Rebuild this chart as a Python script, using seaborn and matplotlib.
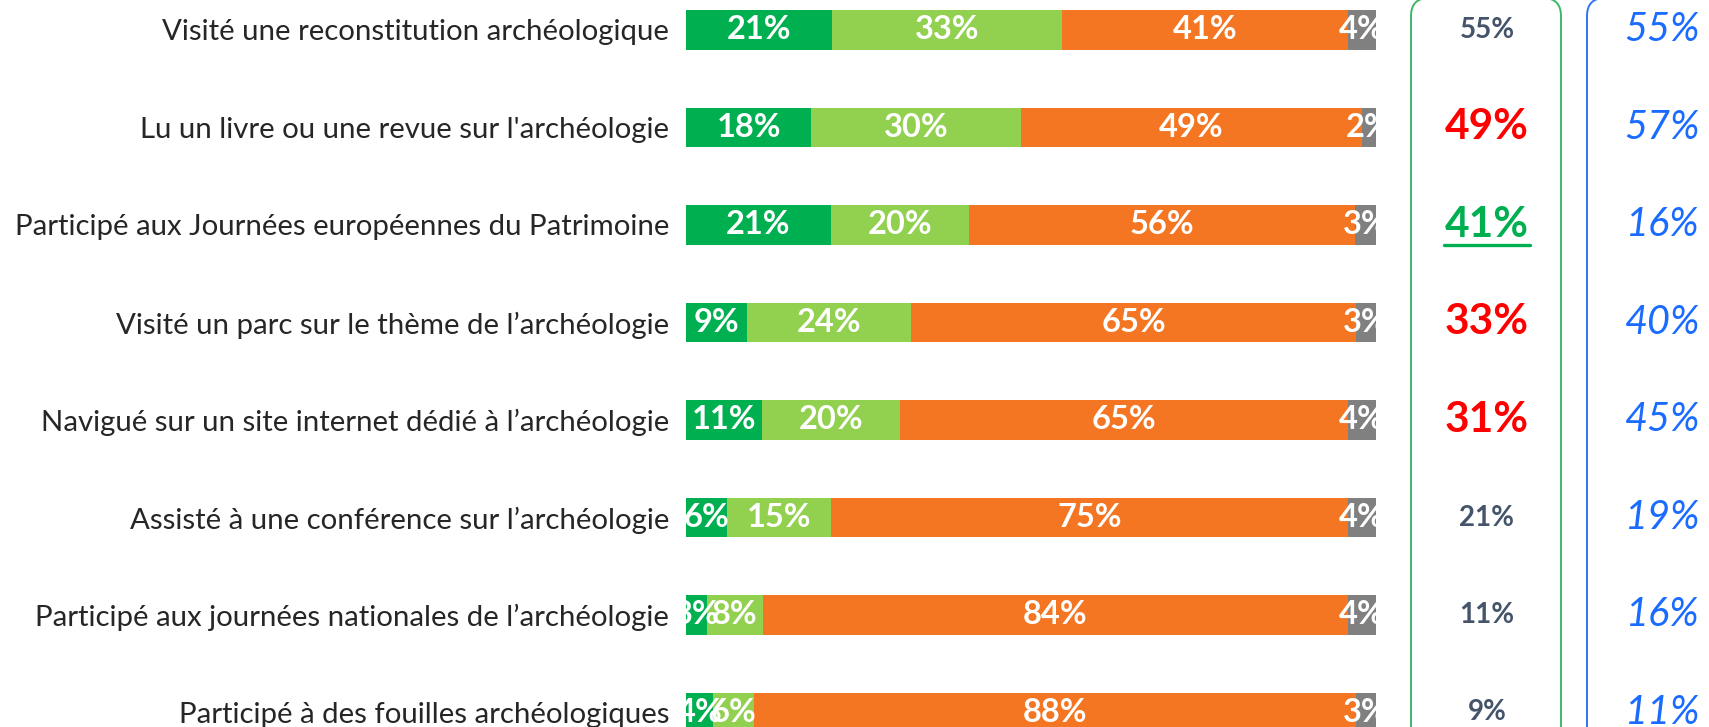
import numpy as np
import pandas as pd
import seaborn as sns
import matplotlib.pyplot as plt
import matplotlib.transforms as mtransforms
from matplotlib.patches import FancyBboxPatch

# data
categories = [
    "Visité une reconstitution archéologique",
    "Lu un livre ou une revue sur l'archéologie",
    "Participé aux Journées européennes du Patrimoine",
    "Visité un parc sur le thème de l’archéologie",
    "Navigué sur un site internet dédié à l’archéologie",
    "Assisté à une conférence sur l’archéologie",
    "Participé aux journées nationales de l’archéologie",
    "Participé à des fouilles archéologiques",
]
seg_recent = [21, 18, 21, 9, 11, 6, 3, 4]
seg_ancien = [33, 30, 20, 24, 20, 15, 8, 6]
seg_jamais = [41, 49, 56, 65, 65, 75, 84, 88]
seg_nsp = [4, 2, 3, 3, 4, 4, 4, 3]
total_oui = [55, 49, 41, 33, 31, 21, 11, 9]
total_ref = [55, 57, 16, 40, 45, 19, 16, 11]
ecart = ["=", "-", "+", "-", "-", "=", "=", "="]

seg_names = ["recent", "ancien", "jamais", "nsp"]
seg_colors = ["#00B050", "#92D050", "#F47622", "#808080"]

W, H = 1709, 727
sns.set_style("white")
plt.rcParams["font.family"] = ["Lato", "DejaVu Sans"]

fig = plt.figure(figsize=(W / 100, H / 100), dpi=100)

# overlay in pixel units for the framing boxes
ov = fig.add_axes([0, 0, 1, 1], zorder=0)
ov.set_xlim(0, W)
ov.set_ylim(H, 0)
ov.axis("off")
ov.add_patch(FancyBboxPatch((1411, -2), 150, 760, boxstyle="round,pad=0,rounding_size=18",
                            fill=False, ec="#3DB86A", lw=1.4))
ov.add_patch(FancyBboxPatch((1587, -2), 200, 760, boxstyle="round,pad=0,rounding_size=18",
                            fill=False, ec="#2F74F0", lw=1.4))

ax = fig.add_axes([686 / W, 0, 690 / W, 1], zorder=1)
ax.patch.set_visible(False)

df = pd.DataFrame({"cat": categories, "recent": seg_recent, "ancien": seg_ancien,
                   "jamais": seg_jamais, "nsp": seg_nsp})
shares = df[seg_names].div(df[seg_names].sum(axis=1), axis=0) * 100
cum = shares.cumsum(axis=1)

# stacked bars: draw cumulative totals from the longest down
for name, color in reversed(list(zip(seg_names, seg_colors))):
    sns.barplot(x=cum[name], y=df["cat"], orient="h", color=color, saturation=1,
                width=0.41, linewidth=0, ax=ax)

ax.set_xlim(0, 100)
ax.set_ylim(7 + 14.5 / 97.5, -30 / 97.5)
ax.set_xlabel("")
ax.set_ylabel("")
ax.set_xticks([])
sns.despine(ax=ax, left=True, bottom=True)
ax.tick_params(axis="y", length=0, pad=12, labelsize=21.2)

# segment labels, clipped to the bar area
for i in range(len(df)):
    left = 0
    for name in seg_names:
        w = shares.loc[i, name]
        ax.text(left + w / 2, i, f"{df.loc[i, name]}%", ha="center", va="center",
                color="white", fontsize=23.5, fontweight="bold", clip_on=True)
        left += w

# side columns
tr = mtransforms.blended_transform_factory(ov.transData, ax.transData)
styles = {"=": ("#44546A", 20), "-": ("#FF0000", 30.5), "+": ("#00B050", 30.5)}
fig.canvas.draw()
renderer = fig.canvas.get_renderer()
for i, (v, r, e) in enumerate(zip(total_oui, total_ref, ecart)):
    col, fs = styles[e]
    t = ax.text(1487, i, f"{v}%", transform=tr, ha="center", va="center",
                color=col, fontsize=fs, fontweight="bold")
    if e == "+":
        bb = t.get_window_extent(renderer=renderer)
        x0, y0 = ov.transData.inverted().transform((bb.x0, bb.y0))
        x1, _ = ov.transData.inverted().transform((bb.x1, bb.y0))
        ov.plot([x0 - 1, x1 + 1], [y0 + 1, y0 + 1], color=col, lw=2.4)
    ax.text(1700, i, f"{r}%", transform=tr, ha="right", va="center",
            color="#1A6BFF", fontsize=28.5, fontstyle="italic")

fig.savefig("out.png", dpi=100)
